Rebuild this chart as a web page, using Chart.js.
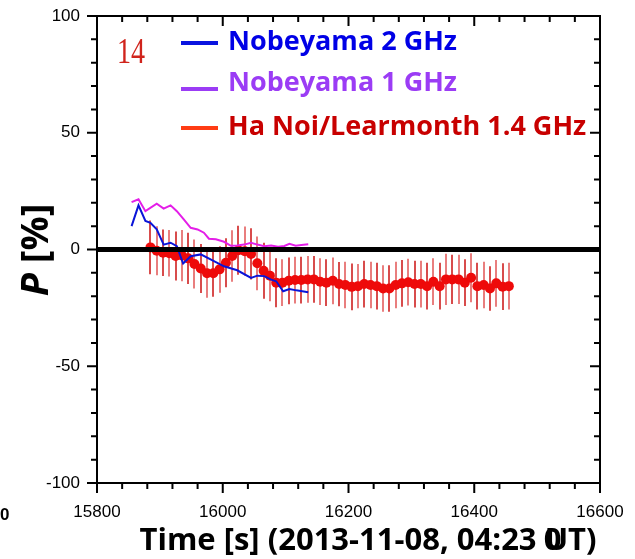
<!DOCTYPE html>
<html>
<head>
<meta charset="utf-8">
<script src="https://cdn.jsdelivr.net/npm/chart.js@4.4.1/dist/chart.umd.min.js"></script>
<style>
  html, body { margin: 0; padding: 0; background: #fff; }
  canvas { display: block; }
</style>
</head>
<body>
<canvas id="chart" width="635" height="559"></canvas>
<script>
// DATA
// Nobeyama 2 GHz polarization
const nob2Time = [15855, 15866, 15877, 15885, 15895, 15906, 15917, 15927, 15937, 15949, 15965, 15986,
    16002, 16023, 16045, 16055, 16066, 16077, 16085, 16096, 16106, 16117, 16136]
const nob2P = [10.0, 18.9, 12.2, 11.4, 8.6, 2.1, 2.9, 1.4, -6.0, -2.9, -2.1, -5.0,
    -7.2, -8.9, -12.2, -11.2, -11.4, -12.9, -13.6, -17.9, -16.9, -17.5, -18.3]

// Nobeyama 1 GHz polarization
const nob1Time = [15855, 15866, 15877, 15895, 15906, 15917, 15927, 15938, 15949, 15960, 15970, 15978, 15989,
    16002, 16013, 16023, 16034, 16045, 16055, 16066, 16077, 16088, 16098, 16106, 16116, 16125, 16136]
const nob1P = [20.3, 21.5, 16.4, 19.6, 17.5, 18.9, 16.4, 12.9, 9.3, 8.6, 7.2, 4.6, 4.4,
    3.3, 1.6, 1.7, 2.1, 2.9, 2.1, 1.4, 1.7, 1.2, 1.5, 2.4, 1.6, 1.9, 2.2]

// Ha Noi / Learmonth 1.4 GHz polarization with error bars
const hnTime = [15885, 15895, 15905, 15915, 15925, 15935, 15945, 15955, 15965, 15975,
    15985, 15995, 16005, 16015, 16025, 16035, 16045, 16055, 16065, 16075,
    16085, 16095, 16105, 16115, 16125, 16135, 16145, 16155, 16165, 16175,
    16185, 16195, 16205, 16215, 16225, 16235, 16245, 16255, 16265, 16275,
    16285, 16295, 16305, 16315, 16325, 16335, 16345, 16355, 16365, 16375,
    16385, 16395, 16405, 16415, 16425, 16435, 16445, 16455]
const hnP = [0.9, -0.5, -1.4, -1.6, -2.8, -2.6, -3.8, -6.2, -8.1, -10.2,
    -10.2, -8.5, -5.7, -2.8, -0.3, -0.7, -1.9, -5.9, -9.1, -11.2,
    -14.2, -14.2, -13.4, -13.1, -13.1, -12.8, -12.8, -13.8, -14.2, -13.4,
    -14.8, -15.2, -16.0, -15.7, -14.8, -15.2, -15.7, -16.7, -16.7, -15.2,
    -14.5, -14.0, -14.8, -14.8, -15.7, -13.8, -15.7, -12.8, -12.8, -12.8,
    -14.2, -12.1, -15.7, -15.2, -16.7, -14.5, -15.9, -15.7]
const hnErr = [11.5, 10.5, 10, 10, 10.5, 11, 11, 10.5, 10.5, 10.5,
    10, 10, 10.5, 11, 10.5, 10.5, 11, 11.5, 12, 11,
    10.5, 10, 10, 10, 10, 10, 10, 10, 10, 10,
    9.5, 10, 10, 9.5, 10, 10, 10, 10, 10, 10,
    10, 10, 10, 10, 10, 10, 10, 11, 10.5, 10.5,
    10, 10.5, 10, 10, 9.5, 10, 10, 10]

// axis ticks
const xMajorTicks = [15800, 16000, 16200, 16400, 16600]
const yMajorTicks = [-100, -50, 0, 50, 100]
const xMinorStep = 40
const yMinorStep = 10

const seriesNames = ['Nobeyama 2 GHz', 'Nobeyama 1 GHz', 'Ha Noi/Learmonth 1.4 GHz']
const legendTextColors = ['#0000e6', '#9b3cf5', '#c80000']
const legendLineColors = ['#0a14e0', '#9b3cf5', '#ff3c14']

const xTitle = 'Time [s] (2013-11-08, 04:23 UT)'
const panelTag = '14'

const pts = (xs, ys) => xs.map((x, i) => ({x, y: ys[i]}))

const TICK_FONT = {family: '"Liberation Sans", Arial, sans-serif', size: 17}
const BOLD = '"Open Sans", Lato, sans-serif'


// PLUGINS
const errorBars = {
    id: 'errorBars',
    beforeDatasetsDraw(chart) {
        const {ctx, scales: {x, y}} = chart
        ctx.save()
        ctx.lineWidth = 2
        hnTime.forEach((t, i) => {
            const px = Math.round(x.getPixelForValue(t))
            ctx.strokeStyle = i % 2 ? 'rgba(215,20,20,0.55)' : 'rgba(200,0,0,0.7)'
            ctx.beginPath()
            ctx.moveTo(px, y.getPixelForValue(hnP[i] + hnErr[i]))
            ctx.lineTo(px, y.getPixelForValue(hnP[i] - hnErr[i]))
            ctx.stroke()
        })
        ctx.restore()
    }
}

const frame = {
    id: 'frame',
    afterDatasetsDraw(chart) {
        const {ctx, chartArea: a, scales: {x, y}} = chart
        ctx.save()
        // thick zero line
        const y0 = y.getPixelForValue(0)
        ctx.fillStyle = '#000'
        ctx.fillRect(a.left, y0 - 2.5, a.right - a.left, 5)

        ctx.strokeStyle = '#000'
        ctx.lineWidth = 2
        ctx.strokeRect(a.left, a.top, a.right - a.left, a.bottom - a.top)

        ctx.beginPath()
        for (let v = x.min; v <= x.max; v += xMinorStep) {
            const px = x.getPixelForValue(v)
            const len = xMajorTicks.includes(v) ? 10 : 6
            ctx.moveTo(px, a.bottom); ctx.lineTo(px, a.bottom + len)   // outward
            ctx.moveTo(px, a.top); ctx.lineTo(px, a.top + len)         // inward
        }
        for (let v = y.min; v <= y.max; v += yMinorStep) {
            const py = y.getPixelForValue(v)
            const len = yMajorTicks.includes(v) ? 10 : 6
            ctx.moveTo(a.left, py); ctx.lineTo(a.left - len, py)
            ctx.moveTo(a.right, py); ctx.lineTo(a.right - len, py)
        }
        ctx.stroke()
        ctx.restore()
    }
}

const annotations = {
    id: 'annotations',
    afterDraw(chart) {
        const {ctx} = chart
        ctx.save()

        // legend
        const rows = [42, 83, 127]
        const lineRows = [43, 89, 128]
        ctx.font = `bold 27px ${BOLD}`
        ctx.textBaseline = 'middle'
        seriesNames.forEach((name, i) => {
            ctx.strokeStyle = legendLineColors[i]
            ctx.lineWidth = 4
            ctx.beginPath()
            ctx.moveTo(181, lineRows[i]); ctx.lineTo(218, lineRows[i])
            ctx.stroke()
            ctx.fillStyle = legendTextColors[i]
            ctx.fillText(name, 228, rows[i])
        })

        // panel number
        ctx.save()
        ctx.fillStyle = '#d0241c'
        ctx.font = '36px "Liberation Serif", "Times New Roman", serif'
        ctx.textBaseline = 'alphabetic'
        ctx.translate(117, 63)
        ctx.scale(0.78, 1)
        ctx.fillText(panelTag, 0, 0)
        ctx.restore()

        // y title: italic P + [%]
        ctx.save()
        ctx.translate(37, 250)
        ctx.rotate(-Math.PI / 2)
        ctx.fillStyle = '#000'
        ctx.textBaseline = 'middle'
        ctx.font = `italic bold 38px ${BOLD}`
        const pW = ctx.measureText('P ').width
        ctx.font = `bold 38px ${BOLD}`
        const restW = ctx.measureText('[%]').width
        const x0 = -(pW + restW) / 2
        ctx.font = `italic bold 38px ${BOLD}`
        ctx.fillText('P', x0, 0)
        ctx.font = `bold 38px ${BOLD}`
        ctx.fillText('[%]', x0 + pW, 0)
        ctx.restore()

        // x title, with the stray 0 sitting on the U
        ctx.fillStyle = '#000'
        ctx.font = `bold 31px ${BOLD}`
        ctx.textBaseline = 'middle'
        ctx.textAlign = 'left'
        const tw = ctx.measureText(xTitle).width
        const tx = 368 - tw / 2
        ctx.fillText(xTitle, tx, 541)
        const uAt = tx + ctx.measureText(xTitle.slice(0, xTitle.indexOf('UT'))).width
        ctx.fillText('0', uAt - 1, 541)

        // stray corner label
        ctx.font = `bold 17px ${TICK_FONT.family}`
        ctx.fillText('0', 0, 515)

        ctx.restore()
    }
}


// CHART
new Chart(document.getElementById('chart'), {
    type: 'scatter',
    data: {
        datasets: [
            {
                label: seriesNames[0],
                data: pts(nob2Time, nob2P),
                showLine: true,
                borderColor: '#0a14d8',
                borderWidth: 2,
                pointRadius: 0,
                tension: 0,
                order: 1,
            },
            {
                label: seriesNames[1],
                data: pts(nob1Time, nob1P),
                showLine: true,
                borderColor: '#e41ee8',
                borderWidth: 2,
                pointRadius: 0,
                tension: 0,
                order: 2,
            },
            {
                label: seriesNames[2],
                data: pts(hnTime, hnP),
                showLine: false,
                backgroundColor: '#ee0a0a',
                borderColor: '#ee0a0a',
                borderWidth: 0,
                pointRadius: 5,
                order: 3,
            },
        ]
    },
    options: {
        responsive: false,
        animation: false,
        events: [],
        layout: {padding: {top: 16, right: 35, bottom: 0, left: 0}},
        plugins: {legend: {display: false}, tooltip: {enabled: false}},
        scales: {
            x: {
                type: 'linear',
                min: 15800, max: 16600,
                grid: {display: false, drawTicks: false},
                border: {display: false},
                afterBuildTicks: s => { s.ticks = xMajorTicks.map(value => ({value})) },
                afterFit: s => { s.height = 76; s.paddingLeft = 0; s.paddingRight = 0 },
                ticks: {font: TICK_FONT, color: '#000', padding: 19, maxRotation: 0, autoSkip: false,
                    callback: v => String(v)},
            },
            y: {
                min: -100, max: 100,
                grid: {display: false, drawTicks: false},
                border: {display: false},
                afterBuildTicks: s => { s.ticks = yMajorTicks.map(value => ({value})) },
                afterFit: s => { s.width = 97; s.paddingTop = 0; s.paddingBottom = 0 },
                ticks: {font: TICK_FONT, color: '#000', padding: 17, callback: v => String(v)},
            },
        }
    },
    plugins: [errorBars, frame, annotations]
})
</script>
</body>
</html>
